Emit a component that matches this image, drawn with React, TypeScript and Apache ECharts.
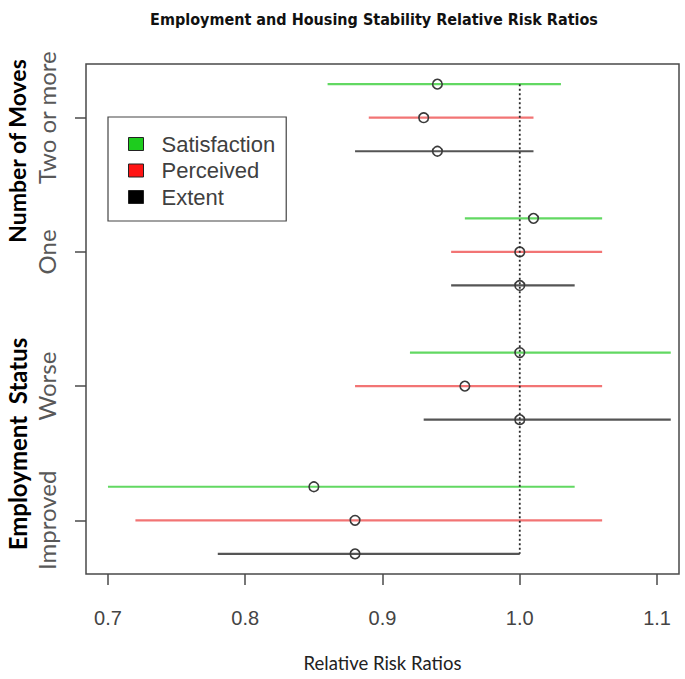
import React, { useEffect, useRef } from 'react';
import * as echarts from 'echarts';

const titleText = 'Employment and Housing Stability Relative Risk Ratios';
const xAxisName = 'Relative Risk Ratios';
const groups = ['Two or more', 'One', 'Worse', 'Improved'];
const groupLabels = ['Number of Moves', 'Employment  Status'];
const seriesNames = ['Satisfaction', 'Perceived', 'Extent'];
const xTicks = [0.7, 0.8, 0.9, 1.0, 1.1];
const refValue = 1.0;

const satisfactionEst = [0.94, 1.01, 1.0, 0.85];
const satisfactionLow = [0.86, 0.96, 0.92, 0.7];
const satisfactionHigh = [1.03, 1.06, 1.11, 1.04];
const perceivedEst = [0.93, 1.0, 0.96, 0.88];
const perceivedLow = [0.89, 0.95, 0.88, 0.72];
const perceivedHigh = [1.01, 1.06, 1.06, 1.06];
const extentEst = [0.94, 1.0, 1.0, 0.88];
const extentLow = [0.88, 0.95, 0.93, 0.78];
const extentHigh = [1.01, 1.04, 1.11, 1.0];

const lineColors = ['#62d862', '#f27474', '#555555'];
const legendColors = ['#1ecc1e', '#ff1414', '#000000'];
const rowOffsets = [-0.25, 0, 0.25];

function buildOption() {
  const lows = [satisfactionLow, perceivedLow, extentLow];
  const highs = [satisfactionHigh, perceivedHigh, extentHigh];
  const ests = [satisfactionEst, perceivedEst, extentEst];
  const ciSeries = seriesNames.map((name, s) => ({
    type: 'custom',
    name,
    data: groups.map((_, i) => [lows[s][i], highs[s][i], ests[s][i], i + 1 + rowOffsets[s]]),
    encode: { x: [0, 1, 2], y: 3 },
    itemStyle: { color: lineColors[s] },
    z: 2,
    silent: true,
    renderItem: (params: any, api: any) => {
      const y = api.value(3);
      const p1 = api.coord([api.value(0), y]);
      const p2 = api.coord([api.value(1), y]);
      const pc = api.coord([api.value(2), y]);
      return {
        type: 'group',
        children: [
          {
            type: 'line',
            shape: { x1: p1[0], y1: p1[1], x2: p2[0], y2: p2[1] },
            style: { stroke: lineColors[s], lineWidth: 2.2 },
          },
          {
            type: 'circle',
            z2: 10,
            shape: { cx: pc[0], cy: pc[1], r: 4.8 },
            style: { fill: 'none', stroke: '#3a3a3a', lineWidth: 1.6 },
          },
        ],
      };
    },
  }));

  const yTop = 1 + rowOffsets[0];
  const yBottom = groups.length + rowOffsets[rowOffsets.length - 1];

  return {
    animation: false,
    title: {
      text: titleText,
      left: 369,
      top: 6,
      textAlign: 'center',
      textStyle: {
        fontFamily: "'DejaVu Sans Condensed', 'Liberation Sans Narrow', sans-serif",
        fontWeight: 'bold',
        fontSize: 16,
        color: '#111',
      },
    },
    legend: {
      data: seriesNames.map((n, i) => ({
        name: n,
        icon: 'rect',
        itemStyle: { color: legendColors[i], borderColor: '#222', borderWidth: 1 },
      })),
      orient: 'vertical',
      left: 108,
      top: 117,
      padding: [16, 11, 13, 20],
      itemWidth: 15,
      itemHeight: 13,
      itemGap: 4.5,
      borderColor: '#444',
      borderWidth: 1.2,
      selectedMode: false,
      textStyle: {
        fontFamily: "'Liberation Sans', Arial, sans-serif",
        fontSize: 22,
        lineHeight: 22,
        color: '#404040',
        padding: [0, 0, 0, 13],
      },
    },
    grid: {
      left: 86,
      top: 64,
      width: 593,
      height: 510,
      show: true,
      borderColor: '#4a4a4a',
      borderWidth: 1.5,
      backgroundColor: 'transparent',
    },
    xAxis: {
      type: 'value',
      min: 0.684,
      max: 1.116,
      name: xAxisName,
      nameLocation: 'middle',
      nameGap: 79,
      nameTextStyle: { fontFamily: 'Lato, sans-serif', fontSize: 18.5, color: '#222' },
      axisLine: { show: false },
      splitLine: { show: false },
      axisTick: {
        show: true,
        customValues: xTicks,
        length: 11,
        lineStyle: { color: '#4a4a4a', width: 1.5 },
      },
      axisLabel: {
        customValues: xTicks,
        formatter: (v: number) => v.toFixed(1),
        margin: 34,
        fontFamily: "'Liberation Sans', Arial, sans-serif",
        fontSize: 20,
        color: '#444',
      },
    },
    yAxis: {
      type: 'value',
      inverse: true,
      min: 0.6,
      max: 4.4,
      axisLine: { show: false },
      splitLine: { show: false },
      axisTick: {
        show: true,
        customValues: groups.map((_, i) => i + 1),
        length: 11,
        lineStyle: { color: '#4a4a4a', width: 1.5 },
      },
      axisLabel: {
        customValues: groups.map((_, i) => i + 1),
        formatter: (v: number) => groups[Math.round(v) - 1] ?? '',
        rotate: 90,
        margin: 28,
        fontFamily: 'Lato, sans-serif',
        fontSize: 24,
        color: '#585858',
      },
    },
    graphic: [
      {
        type: 'text',
        x: 17,
        y: 151,
        rotation: Math.PI / 2,
        style: {
          text: groupLabels[0],
          fontFamily: 'Lato, sans-serif',
          fontWeight: 'bold',
          fontSize: 23,
          fill: '#000',
          align: 'center',
          verticalAlign: 'middle',
        },
      },
      {
        type: 'text',
        x: 17,
        y: 444,
        rotation: Math.PI / 2,
        style: {
          text: groupLabels[1],
          fontFamily: 'Lato, sans-serif',
          fontWeight: 'bold',
          fontSize: 24,
          fill: '#000',
          align: 'center',
          verticalAlign: 'middle',
        },
      },
    ],
    series: [
      ...ciSeries,
      {
        type: 'line',
        name: 'ref',
        data: [
          [refValue, yTop],
          [refValue, yBottom],
        ],
        symbol: 'none',
        silent: true,
        z: 3,
        lineStyle: { color: '#2a2a2a', width: 1.8, type: [2, 2.5] },
      },
    ],
  };
}

export default function App() {
  const ref = useRef<HTMLDivElement>(null);
  useEffect(() => {
    document.body.style.margin = '0';
    const chart = echarts.init(ref.current!, null, { renderer: 'svg' });
    chart.setOption(buildOption() as any);
    return () => chart.dispose();
  }, []);
  return (
    <div
      ref={ref}
      style={{ position: 'absolute', left: 0, top: 0, width: 685, height: 679, background: '#fff' }}
    />
  );
}
